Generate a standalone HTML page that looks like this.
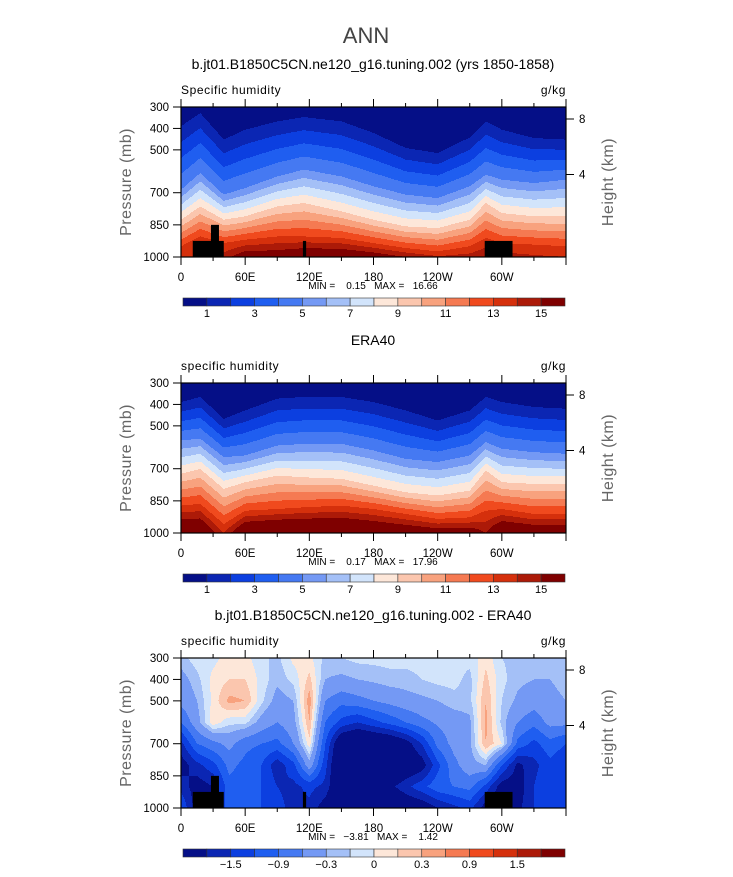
<!DOCTYPE html>
<html><head><meta charset="utf-8">
<style>
html,body{margin:0;padding:0;background:#fff;}
svg text{font-family:"Liberation Sans",sans-serif;}
</style></head>
<body>
<svg id="fig" xmlns="http://www.w3.org/2000/svg" width="733" height="872" viewBox="0 0 733 872">
<text x="366" y="43" text-anchor="middle" font-size="22" fill="#444">ANN</text>
</svg>
<script>
// ---------- shared data ----------
const levelColors = ['#050f87','#0b26b3','#0c3fe0','#1f5ef0','#4579f2','#7499f4','#a4c0f7','#d2e4fb','#fde7d9','#fbc6ae','#f8a27e','#f57a52','#f04a1e','#d5300c','#ac1a08','#7f0000'];
const qLevels = [1,2,3,4,5,6,7,8,9,10,11,12,13,14,15];
const qLabels = ['1','3','5','7','9','11','13','15'];
const dLevels = [-1.8,-1.5,-1.2,-0.9,-0.6,-0.3,-0.15,0,0.15,0.3,0.6,0.9,1.2,1.5,1.8];
const dLabels = ['-1.5','-0.9','-0.3','0','0.3','0.9','1.5'];
const pTicks = [300,400,500,700,850,1000];
const hTicks = [8,4];
const hTickFrac = [0.08,0.45];
const lonTicks = [0,60,120,180,240,300,360];
const lonLabels = ['0','60E','120E','180','120W','60W',''];

// panel 1 (model) contour crossing pressures per longitude
const lons = [0,18,40,60,90,115,150,180,210,240,270,285,300,330,360];
const m_p1 = [390,328,452,406,367,347,367,421,491,515,442,367,406,445,452];
const m_p5 = [686,608,709,678,624,592,624,670,709,725,670,616,639,655,639];
const m_p9 = [826,764,826,810,764,748,787,826,857,865,826,748,795,810,810];
const m_p13 = [950,904,935,919,904,904,911,935,958,974,950,911,935,942,950];
const m_qs = [14,14,14.5,16,16,16.5,16.5,16,15,14.2,14.5,15,14.5,14.2,14];
// panel 2 (ERA40)
const e_p1 = [389,365,467,428,373,365,365,389,428,475,428,365,389,412,420];
const e_p5 = [568,560,646,638,592,584,584,615,654,669,638,576,607,623,630];
const e_p9 = [724,701,794,763,732,740,747,779,810,825,802,708,763,771,771];
const e_p13 = [872,864,958,896,888,880,872,888,911,934,927,896,888,911,911];
const e_qs = [17,17,14,17,17.5,17.5,17.5,17,16.5,16,16,15,17,16.5,16.5];

// panel 3 difference grid (lon every 15 deg, rows by pressure)
const dLons = [0,15,30,45,60,75,90,105,120,135,150,165,180,195,210,225,240,255,270,285,300,315,330,345,360];
const dPres = [300,400,500,600,700,800,900,1000];
const d300 = [-0.2,-0.07,-0.05,0.07,0.05,-0.1,-0.2,0.05,0.05,-0.2,-0.15,-0.1,-0.1,-0.1,-0.1,-0.1,-0.1,-0.1,-0.1,0.1,-0.15,-0.2,-0.2,-0.2,-0.2];
const d400 = [-0.4,-0.2,0.05,0.15,0.15,-0.05,-0.25,-0.1,0.2,-0.3,-0.35,-0.3,-0.25,-0.2,-0.2,-0.15,-0.1,-0.1,-0.2,0.2,-0.1,-0.25,-0.3,-0.3,-0.25];
const d500 = [-0.5,-0.3,0.05,0.35,0.3,-0.1,-0.4,-0.3,0.4,-0.6,-0.8,-0.7,-0.6,-0.5,-0.4,-0.35,-0.3,-0.2,-0.2,0.3,-0.15,-0.35,-0.45,-0.35,-0.3];
const d600 = [-0.9,-0.4,0.1,-0.1,-0.1,-0.4,-0.6,-0.4,0.3,-0.9,-1.3,-1.5,-1.3,-1.1,-0.9,-0.7,-0.55,-0.45,-0.35,0.35,-0.2,-0.6,-0.8,-0.5,-0.5];
const d700 = [-1.6,-0.9,-0.7,-0.5,-0.8,-0.9,-1.0,-0.6,0.1,-1.2,-2.3,-2.5,-2.4,-2.3,-2.0,-1.5,-0.8,-0.5,-0.35,0.3,0.0,-1.0,-1.3,-1.0,-1.2];
const d800 = [-2.0,-1.6,-1.3,-0.8,-1.0,-1.2,-1.7,-1.3,-0.4,-1.4,-2.5,-2.8,-2.6,-2.5,-2.2,-2.0,-1.3,-0.7,-0.4,-0.3,-1.2,-1.9,-1.6,-1.3,-1.5];
const d900 = [-1.6,-2.0,-1.8,-1.0,-1.1,-1.2,-1.5,-1.6,-1.4,-1.6,-2.4,-2.6,-2.2,-1.9,-1.6,-1.3,-1.0,-0.9,-0.8,-1.3,-2.0,-2.0,-1.5,-1.2,-1.4];
const d1000 = [-1.2,-2.0,-2.0,-0.9,-1.0,-1.2,-1.4,-1.6,-1.6,-2.0,-2.4,-2.5,-2.5,-2.4,-2.2,-2.1,-1.8,-1.6,-1.4,-2.0,-2.1,-1.9,-1.5,-1.3,-1.4];
const dRows = [d300,d400,d500,d600,d700,d800,d900,d1000];

// topography (lon0, lon1, top pressure)
const landLon0 = [11,28,114,284];
const landLon1 = [40,35.5,117,310];
const landTop = [925,850,925,925];

// ---------- layout ----------
const NS = 'http://www.w3.org/2000/svg';
const svg = document.getElementById('fig');
const X0 = 181, W = 385, H = 150;
function xOf(lon){ return X0 + lon/360*W; }
function yOf(p, top){ return top + (p-300)/700*H; }
function mk(tag, attrs, parent){ const e=document.createElementNS(NS,tag); for(const k in attrs) e.setAttribute(k,attrs[k]); (parent||svg).appendChild(e); return e; }
function txt(x,y,s,size,anchor,parent,extra){ const t=mk('text',Object.assign({x:x,y:y,'font-size':size,'text-anchor':anchor||'start',fill:'#000'},extra||{}),parent); t.textContent=s; return t; }
function interp(xs, ys, x){ for(let i=0;i<xs.length-1;i++){ if(x<=xs[i+1]){ const f=(x-xs[i])/(xs[i+1]-xs[i]); return ys[i]+f*(ys[i+1]-ys[i]); } } return ys[ys.length-1]; }
function levelIndex(v, levels){ let k=0; while(k<levels.length && v>=levels[k]) k++; return k; }

function profileFn(p1,p5,p9,p13,qs){
  return function(lon,p){
    const pp=[300,interp(lons,p1,lon),interp(lons,p5,lon),interp(lons,p9,lon),interp(lons,p13,lon),1000];
    const qq=[0.3,1,5,9,13,interp(lons,qs,lon)];
    return interp(pp,qq,p);
  };
}
function diffFn(lon,p){
  const col = dRows.map(r=>interp(dLons,r,lon));
  return interp(dPres,col,p);
}

function drawField(g, top, fn, levels){
  for(let c=0;c<W;c++){
    const lon=(c+0.5)/W*360;
    let runStart=0, runK=-1;
    for(let r=0;r<=H;r++){
      let k=-1;
      if(r<H){ const p=300+(r+0.5)/H*700; k=levelIndex(fn(lon,p),levels); }
      if(k!==runK){
        if(runK>=0){
          const rc=mk('rect',{x:X0+c,y:top+runStart,width:1.01,height:r-runStart,fill:levelColors[runK]},g);
          
          
        }
        runStart=r; runK=k;
      }
    }
  }
}

function drawPanel(cfg){
  const top=cfg.top;
  const g=mk('g',{});
  
  
  const tt=txt(373,top-38,cfg.title,14,'middle',g);
  
  
  const lt=txt(181,top-13,cfg.left,12,'start',g,{'letter-spacing':'0.6'});
  
  
  const ut=txt(566,top-13,'g/kg',12,'end',g,{'letter-spacing':'0.6'});
  
  
  const fg=mk('g',{},g);
  
  
  drawField(fg, top, cfg.fn, cfg.levels);
  if(cfg.land){
    for(let i=0;i<landLon0.length;i++){
      const lr=mk('rect',{x:xOf(landLon0[i]),y:yOf(landTop[i],top),width:xOf(landLon1[i])-xOf(landLon0[i]),height:yOf(1000,top)-yOf(landTop[i],top),fill:'#000'},g);
      
      
    }
  }
  const fr=mk('rect',{x:X0,y:top,width:W,height:H,fill:'none',stroke:'#000','stroke-width':1.2},g);
  
  
  pTicks.forEach(p=>{
    const y=yOf(p,top);
    mk('line',{x1:X0-8,x2:X0,y1:y,y2:y,stroke:'#000','stroke-width':1},g);
    const l=txt(X0-12,y+4,String(p),11.5,'end',g);
    
    
  });
  const yl=txt(0,0,'Pressure (mb)',16,'middle',g,{fill:'#666',transform:`translate(131,${top+H/2}) rotate(-90)`,'letter-spacing':'0.5'});
  
  
  hTicks.forEach((h,i)=>{
    const y=top+hTickFrac[i]*H;
    mk('line',{x1:X0+W,x2:X0+W+8,y1:y,y2:y,stroke:'#000','stroke-width':1},g);
    const l=txt(X0+W+13,y+4,String(h),11.5,'start',g);
    
    
  });
  const hl=txt(0,0,'Height (km)',16,'middle',g,{fill:'#666',transform:`translate(613,${top+H/2}) rotate(-90)`,'letter-spacing':'0.5'});
  
  
  for(let lon=0;lon<=360;lon+=30){
    const x=xOf(lon), major=lon%60===0, len=major?8:4;
    mk('line',{x1:x,x2:x,y1:top+H,y2:top+H+len,stroke:'#000','stroke-width':1},g);
    mk('line',{x1:x,x2:x,y1:top,y2:top-len,stroke:'#000','stroke-width':1},g);
  }
  lonTicks.forEach((lon,i)=>{
    if(!lonLabels[i]) return;
    const l=txt(xOf(lon),top+H+24,lonLabels[i],11.5,'middle',g);
    
    
  });
  const mm=txt(373,top+H+32,cfg.minmax,10,'middle',g,{style:'white-space:pre'});
  
  
  const cb=mk('g',{},g);
  
  
  const cy=top+191, cx=183, cw=382/16;
  levelColors.forEach((c,i)=>{
    const r=mk('rect',{x:cx+i*cw,y:cy,width:cw,height:8,fill:c,stroke:'#333','stroke-width':0.6},cb);
    
    
  });
  cfg.cbLabels.forEach((s,i)=>{
    const k=cfg.cbStart+2*i;
    const l=txt(cx+k*cw,cy+19,s.replace('-','\u2212'),11,'middle',cb);
    
    
  });
}

drawPanel({name:'panel-model',top:107,title:'b.jt01.B1850C5CN.ne120_g16.tuning.002 (yrs 1850-1858)',left:'Specific humidity',fn:profileFn(m_p1,m_p5,m_p9,m_p13,m_qs),levels:qLevels,land:true,minmax:'MIN =    0.15   MAX =   16.66',cbLabels:qLabels,cbStart:1});
drawPanel({name:'panel-era40',top:383,title:'ERA40',left:'specific humidity',fn:profileFn(e_p1,e_p5,e_p9,e_p13,e_qs),levels:qLevels,land:false,minmax:'MIN =    0.17   MAX =   17.96',cbLabels:qLabels,cbStart:1});
drawPanel({name:'panel-difference',top:658,title:'b.jt01.B1850C5CN.ne120_g16.tuning.002 - ERA40',left:'specific humidity',fn:diffFn,levels:dLevels,land:true,minmax:'MIN =   \u22123.81   MAX =    1.42',cbLabels:dLabels,cbStart:2});
</script>
</body></html>
